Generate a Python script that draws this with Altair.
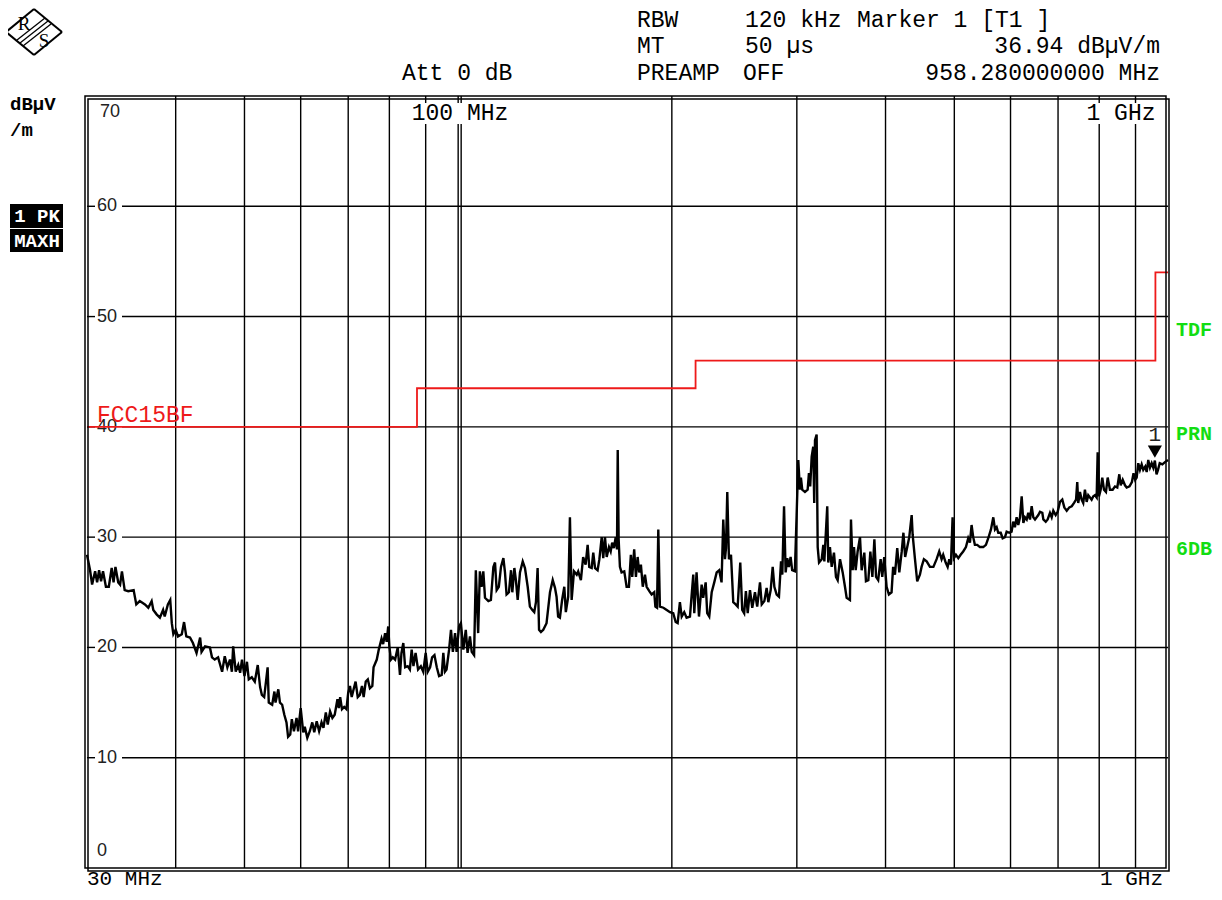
import altair as alt
import pandas as pd

# ---------------- data ----------------
freq_a = [30.0, 30.3, 30.5, 30.8, 31.0, 31.2, 31.4, 31.6, 31.9, 32.2,
          32.5, 32.7, 32.9, 33.2, 33.4, 33.6, 33.9, 34.3, 34.9, 35.2,
          35.6, 36.2, 36.6, 37.0, 37.2, 37.6, 38.0, 38.4, 38.6, 39.0,
          39.3, 39.5, 39.7, 40.0, 40.3, 40.8, 41.1, 41.4, 41.9, 42.3,
          42.8, 43.3, 43.5, 44.0, 44.7, 45.0, 45.4, 45.9, 46.5, 46.9,
          47.3, 47.7, 48.0, 48.2, 48.6, 49.0, 49.3, 49.6, 50.0, 50.4,
          50.7, 51.2, 51.7, 52.2, 52.6]
level_a = [28.4, 27.0, 25.7, 26.9, 25.9, 27.0, 26.0, 26.9, 25.5, 25.5,
           27.2, 25.9, 27.3, 25.9, 25.7, 26.9, 25.2, 25.1, 25.2, 23.9,
           24.2, 23.9, 23.6, 24.2, 23.4, 23.0, 22.7, 23.4, 22.8, 23.9,
           24.3, 22.2, 21.2, 21.6, 21.0, 21.2, 22.3, 21.0, 20.9, 20.4,
           19.5, 20.9, 19.6, 20.1, 20.0, 19.1, 18.9, 19.1, 17.8, 19.2,
           18.2, 18.9, 17.8, 20.1, 17.8, 18.4, 17.7, 18.9, 17.4, 18.7,
           17.1, 17.3, 16.9, 18.4, 16.4]

freq_b = [52.9, 53.3, 53.9, 54.1, 54.7, 55.1, 55.3, 55.8, 56.1, 56.5,
          56.9, 57.3, 57.6, 58.0, 58.3, 58.7, 59.2, 59.5, 60.0, 60.5,
          60.8, 61.3, 61.8, 62.3, 62.7, 63.2, 63.7, 64.2, 64.6, 65.1,
          65.5, 66.0, 66.5, 67.0, 67.6, 67.9, 68.2, 68.6, 69.1, 69.6,
          70.0, 70.4, 70.8, 71.3, 71.7, 72.2, 72.7, 73.2, 73.6, 74.1,
          74.6, 75.1, 75.7, 76.0, 76.8, 77.3, 78.0, 78.4, 78.9, 79.3,
          79.7, 80.0, 80.4, 80.9, 81.5, 82.2, 82.8, 83.2, 83.7, 84.2,
          84.9, 85.5, 86.0, 86.5, 87.1, 87.8, 88.6, 89.3, 90.0, 90.6,
          91.3, 91.9, 92.6, 93.3, 94.0, 94.8, 95.3, 95.8, 96.3, 97.1,
          97.7, 98.3, 99.0, 99.5, 100.3, 100.9]
level_b = [15.7, 15.5, 18.2, 15.0, 14.8, 16.0, 15.0, 16.2, 15.0, 14.8,
           13.9, 13.2, 11.9, 12.1, 13.5, 12.4, 13.6, 12.4, 14.5, 12.3,
           12.8, 11.8, 12.4, 13.2, 12.3, 13.3, 12.4, 13.2, 12.7, 14.1,
           13.0, 14.2, 13.6, 13.9, 15.3, 14.5, 15.5, 14.4, 14.6, 14.4,
           15.9, 16.5, 15.5, 16.3, 16.9, 15.5, 15.7, 16.5, 15.5, 16.9,
           17.1, 16.3, 16.5, 18.2, 18.9, 19.8, 20.8, 20.3, 21.3, 20.5,
           21.9, 20.1, 18.9, 19.1, 18.9, 20.0, 17.5, 19.5, 20.4, 18.2,
           18.3, 18.0, 19.8, 18.3, 19.5, 18.0, 18.3, 17.8, 19.5, 17.8,
           18.2, 19.1, 19.3, 18.2, 17.4, 17.5, 19.5, 17.8, 18.0, 19.8,
           21.6, 19.6, 21.3, 19.6, 21.9, 22.2]

freq_c = [101.7, 102.5, 103.1, 103.9, 104.5, 105.3, 105.9, 106.7, 107.3, 107.9,
          108.5, 109.1, 110.3, 111.2, 112.1, 112.7, 113.3, 114.1, 114.9, 115.8,
          116.4, 117.0, 117.9, 118.7, 119.2, 120.0, 120.6, 121.3, 122.2, 123.3,
          124.2, 125.3, 126.2, 127.2, 128.0, 128.7, 129.4, 130.0, 130.8, 131.8,
          133.2, 134.7, 135.9, 136.9, 137.6, 138.3, 139.1, 140.1, 141.1, 141.8,
          142.9, 143.7, 144.5, 145.6, 146.9, 147.6, 148.9, 150.0, 151.2, 152.2,
          153.0, 154.2, 155.0, 155.9, 157.2, 158.1, 159.3, 160.1, 161.0, 161.9,
          163.1, 164.0, 164.8, 165.7, 166.7, 167.4, 167.8, 168.3, 169.0, 169.9,
          171.4, 172.7, 174.0, 175.1, 175.9, 177.0, 178.0, 179.0, 179.9, 180.9,
          182.0, 183.3, 184.3, 185.9, 187.3, 188.9, 189.6, 190.6, 191.4, 192.4,
          194.6, 196.7, 198.8, 200.9, 202.5, 203.8]
level_c = [19.8, 21.6, 19.5, 21.0, 19.6, 19.3, 27.0, 21.3, 26.9, 25.5,
           26.9, 24.5, 24.2, 24.3, 27.3, 27.7, 25.2, 25.5, 27.3, 28.1,
           26.8, 24.8, 25.0, 27.0, 25.0, 27.2, 26.1, 24.3, 26.8, 27.8,
           27.2, 25.5, 23.7, 23.4, 23.2, 24.1, 27.2, 21.6, 21.4, 21.6,
           22.2, 25.0, 26.1, 25.4, 24.6, 22.8, 22.7, 24.3, 25.5, 23.2,
           24.6, 31.8, 24.3, 26.9, 26.6, 26.9, 26.1, 28.2, 27.5, 29.3,
           27.3, 27.2, 28.6, 27.2, 27.0, 28.0, 30.0, 28.1, 30.0, 28.2,
           29.1, 28.7, 29.5, 29.0, 30.0, 28.9, 37.9, 29.8, 27.3, 26.8,
           26.9, 25.5, 25.5, 28.4, 26.4, 28.9, 26.4, 28.2, 26.8, 27.5,
           25.5, 26.6, 25.5, 25.1, 24.8, 25.0, 23.7, 23.6, 30.7, 23.7,
           23.6, 23.4, 23.2, 23.1, 22.3, 22.2]

freq_d = [205.3, 206.5, 208.2, 209.8, 212.1, 214.4, 215.1, 216.7, 218.4, 220.3,
          221.4, 223.2, 224.3, 225.8, 227.6, 229.5, 231.3, 233.2, 235.0, 236.3,
          237.6, 238.4, 239.4, 240.7, 242.3, 244.1, 246.0, 247.6, 249.7, 251.3,
          252.9, 254.3, 255.8, 257.7, 259.6, 261.9, 263.8, 266.2, 267.7, 270.0,
          272.0, 273.5, 275.6, 277.4, 278.9, 281.0, 283.1, 285.0, 286.2, 287.8,
          289.3, 290.8, 292.3, 294.0, 295.5, 298.1, 299.8, 301.4, 303.0, 304.0,
          305.3, 308.0, 310.7, 312.0, 313.3, 314.8, 316.4, 317.4, 318.2, 319.9,
          321.0, 322.4, 325.2, 326.9, 328.0, 331.1, 332.2, 334.0, 335.9, 338.4,
          340.6, 342.5, 345.1, 348.1, 350.7, 352.6, 356.4, 357.6, 359.6, 361.1,
          363.1, 365.4, 368.2, 370.2, 373.4, 375.4, 378.3, 380.8, 383.3, 385.8,
          387.9, 390.6, 393.7, 395.8, 398.3, 401.4, 404.4, 407.9, 410.0]
level_d = [24.1, 22.8, 23.2, 22.7, 22.8, 26.6, 23.1, 26.8, 22.8, 25.7,
           24.5, 25.9, 23.1, 22.8, 25.0, 25.9, 26.8, 27.0, 25.9, 31.6,
           28.0, 29.0, 34.1, 28.0, 28.4, 24.1, 23.9, 23.7, 27.7, 23.4,
           23.1, 25.1, 23.1, 25.2, 23.6, 25.0, 23.7, 25.9, 23.9, 24.2,
           25.4, 24.1, 25.2, 27.3, 25.5, 24.8, 24.6, 27.8, 26.6, 32.8,
           26.8, 28.1, 27.3, 28.2, 27.0, 26.9, 32.0, 37.0, 34.3, 35.4,
           34.3, 34.1, 34.3, 35.8, 34.6, 37.3, 38.2, 33.1, 38.8, 39.3,
           29.1, 27.7, 28.0, 29.3, 27.8, 32.8, 27.7, 29.1, 27.3, 28.6,
           26.4, 26.1, 28.0, 26.8, 25.5, 24.5, 24.3, 31.6, 27.0, 29.1,
           27.0, 28.7, 30.0, 27.0, 28.6, 26.0, 26.1, 28.7, 26.4, 29.8,
           26.4, 26.1, 28.0, 26.4, 28.2, 25.5, 24.8, 25.0, 27.3]

freq_e = [412.4, 415.5, 418.3, 421.6, 423.9, 426.3, 429.2, 432.0, 435.4, 436.8,
          440.1, 443.3, 447.2, 449.6, 453.0, 457.1, 462.0, 467.2, 472.1, 476.1,
          479.8, 482.3, 486.2, 489.3, 491.9, 494.5, 497.2, 499.4, 502.6, 506.5,
          510.3, 514.6, 519.2, 523.1, 526.0, 528.8, 531.6, 534.5, 538.6, 543.3,
          549.2, 554.0, 558.2, 563.1, 567.4, 570.5, 573.6, 576.6, 581.2, 584.9,
          589.3, 592.5, 597.5, 602.1, 605.2, 608.6, 612.0, 615.3, 618.7, 622.1,
          625.5, 628.8, 632.3, 635.6, 639.1, 642.6, 646.0, 649.6, 653.1, 656.6,
          660.2, 665.2, 667.4, 672.6, 676.8, 681.9, 685.7, 689.3, 694.6, 699.1,
          704.4, 709.7, 714.4, 720.0, 726.1, 731.8, 737.3, 742.1, 745.0, 747.4,
          751.6, 755.7, 759.6, 763.8, 768.1, 772.1, 776.4, 780.6, 784.8, 789.1,
          793.4, 796.0, 799.4, 803.8, 808.0, 812.5, 817.7, 822.3, 828.4, 835.7,
          842.0, 848.3, 853.9, 857.8, 863.4, 869.8, 874.6, 882.6, 889.5, 894.2,
          899.0, 903.4, 908.1, 913.0, 918.1, 922.9, 928.9, 933.2, 938.0, 943.2,
          948.4, 953.4, 958.28, 963.5, 968.1, 973.5, 981.9, 990.3, 1000.0]
level_e = [26.6, 29.0, 26.8, 28.7, 30.4, 28.2, 29.1, 30.0, 32.0, 30.2,
           28.0, 26.0, 26.6, 27.3, 28.0, 27.8, 27.3, 27.3, 28.0, 28.7,
           28.0, 28.4, 27.7, 27.3, 28.0, 27.5, 31.8, 28.1, 28.4, 28.1,
           28.4, 28.7, 29.1, 29.9, 29.5, 31.1, 30.0, 29.3, 29.3, 29.1,
           29.1, 29.3, 29.9, 30.7, 31.8, 30.7, 30.9, 30.4, 30.4, 29.9,
           30.0, 30.5, 30.4, 30.5, 31.4, 30.9, 31.8, 31.1, 31.8, 33.7,
           31.3, 31.8, 31.6, 32.2, 31.6, 32.8, 31.8, 31.6, 31.8, 32.0,
           32.3, 32.2, 31.6, 31.4, 31.6, 32.2, 31.8, 32.4, 32.0, 32.3,
           33.2, 33.4, 32.7, 32.4, 32.7, 32.8, 33.1, 33.4, 35.0, 33.1,
           34.1, 33.4, 33.1, 34.3, 33.2, 33.8, 33.6, 33.4, 33.7, 33.8,
           33.6, 37.7, 33.7, 34.3, 35.4, 34.3, 34.1, 35.4, 34.3, 34.3,
           34.6, 34.5, 35.7, 34.7, 35.2, 34.7, 34.5, 34.6, 35.0, 35.8,
           35.2, 35.4, 36.7, 36.1, 36.6, 36.1, 36.4, 35.9, 37.0, 36.3,
           36.7, 36.3, 36.94, 35.7, 36.1, 36.7, 36.6, 36.8, 37.0]

limit_freq = [30, 87.5, 87.5, 216, 216, 960, 960, 1000]
limit_level = [40, 40, 43.5, 43.5, 46, 46, 54, 54]

marker_freq = [958.28]
marker_level = [36.94]

grid_freqs = [40, 50, 60, 70, 80, 90, 100, 200, 300, 400, 500, 600, 700, 800, 900]
grid_levels = [10, 20, 30, 40, 50, 60]

# ---------------- chart ----------------
W, H = 1081, 772
MONO = "Liberation Mono"
SANS = "Liberation Sans"
RED = "#ee1a1a"
GREEN = "#12dd12"
FS = 23

trace = pd.DataFrame({"freq": freq_a + freq_b + freq_c + freq_d + freq_e,
                      "level": level_a + level_b + level_c + level_d + level_e})
limit = pd.DataFrame({"freq": limit_freq, "level": limit_level,
                      "i": list(range(len(limit_freq)))})
marker = pd.DataFrame({"freq": marker_freq, "level": marker_level})
one = pd.DataFrame({"k": [0]})

xscale = alt.Scale(type="log", domain=[30, 1000], nice=False)
yscale = alt.Scale(domain=[0, 70], nice=False, zero=False)


def X():
    return alt.X("freq:Q", scale=xscale, axis=None)


def Y():
    return alt.Y("level:Q", scale=yscale, axis=None)


def T(s, x, y, size=FS, color="black", align="left", weight="normal", font=MONO,
      baseline="middle"):
    return alt.Chart(one).mark_text(
        text=s, align=align, baseline=baseline, font=font, fontSize=size,
        fontWeight=weight, color=color
    ).encode(x=alt.value(x), y=alt.value(y))


def BOX(x, x2, y, y2, fill="white"):
    return alt.Chart(one).mark_rect(fill=fill, strokeWidth=0).encode(
        x=alt.value(x), x2=alt.value(x2), y=alt.value(y), y2=alt.value(y2))


def FRAME(x, x2, y, y2):
    return alt.Chart(one).mark_rect(fillOpacity=0, stroke="black", strokeWidth=1.5).encode(
        x=alt.value(x), x2=alt.value(x2), y=alt.value(y), y2=alt.value(y2))


def SEG(x, y, x2, y2, sw=1.3, color="black"):
    return alt.Chart(one).mark_rule(color=color, strokeWidth=sw).encode(
        x=alt.value(x), y=alt.value(y), x2=alt.value(x2), y2=alt.value(y2))


layers = []

# grid
gf = pd.DataFrame({"freq": grid_freqs})
layers.append(alt.Chart(gf).mark_rule(color="black", strokeWidth=1.4).encode(
    x=X(), y=alt.value(0), y2=alt.value(H)))
layers.append(alt.Chart(pd.DataFrame({"freq": [100]})).mark_rule(
    color="black", strokeWidth=1.4, xOffset=3).encode(x=X(), y=alt.value(0), y2=alt.value(H)))
gl = pd.DataFrame({"level": grid_levels})
layers.append(alt.Chart(gl).mark_rule(color="black", strokeWidth=1.4).encode(
    y=Y(), x=alt.value(0), x2=alt.value(8)))
layers.append(alt.Chart(gl).mark_rule(color="black", strokeWidth=1.4).encode(
    y=Y(), x=alt.value(35), x2=alt.value(W)))
layers.append(alt.Chart(gl).mark_text(
    align="left", baseline="middle", font=SANS, fontSize=18, color="#222222"
).encode(y=Y(), x=alt.value(10), text=alt.Text("level:Q", format="d")))
layers.append(T("70", 13, 16, size=18, font=SANS, color="#222222"))
layers.append(T("0", 10, 755, size=18, font=SANS, color="#222222"))

# top frequency labels (with gaps in the grid)
layers.append(BOX(318, 428, 7, 28))
layers.append(T("100 MHz", 373, 17, align="center"))
layers.append(BOX(996, 1073, 7, 28))
layers.append(T("1 GHz", 1034, 17, align="center"))

# limit line + label
layers.append(alt.Chart(limit).mark_line(color=RED, strokeWidth=1.8, interpolate="linear").encode(
    x=X(), y=Y(), order="i:Q"))
layers.append(T("FCC15BF", 10, 319, color=RED))

# trace
layers.append(alt.Chart(trace).mark_line(color="black", strokeWidth=2.4).encode(x=X(), y=Y()))

# marker
layers.append(alt.Chart(marker).mark_point(
    shape="triangle-down", filled=True, size=200, color="black", opacity=1, yOffset=-9
).encode(x=X(), y=Y()))
layers.append(alt.Chart(marker).mark_text(
    text="1", fontSize=21, font=MONO, color="#222222", yOffset=-26, baseline="middle"
).encode(x=X(), y=Y()))

# frame (double)
layers.append(FRAME(-2, 1079, 0, 772))
layers.append(FRAME(1, 1082, 3, 775))

# header
layers.append(T("Att 0 dB", 315, -23))
layers.append(T("RBW", 550, -76))
layers.append(T("120 kHz", 658, -76))
layers.append(T("Marker 1 [T1 ]", 770, -76))
layers.append(T("MT", 550, -50))
layers.append(T("50 \u00b5s", 658, -50))
layers.append(T("36.94 dB\u00b5V/m", 1073, -50, align="right"))
layers.append(T("PREAMP", 550, -23))
layers.append(T("OFF", 656, -23))
layers.append(T("958.280000000 MHz", 1073, -23, align="right"))

# bottom axis labels
layers.append(T("30 MHz", 0, 789, size=21, baseline="alphabetic"))
layers.append(T("1 GHz", 1076, 789, size=21, align="right", baseline="alphabetic"))

# left labels
layers.append(T("dB\u00b5V", -77, 8, size=19, weight="bold"))
layers.append(T("/m", -77, 34, size=19, weight="bold"))
layers.append(BOX(-77, -24, 108, 132, fill="black"))
layers.append(T("1 PK", -50, 120, size=19, weight="bold", color="white", align="center"))
layers.append(BOX(-77, -24, 133, 156, fill="black"))
layers.append(T("MAXH", -50, 145, size=19, weight="bold", color="white", align="center"))

# right labels
layers.append(T("TDF", 1089, 234, size=20, weight="bold", color=GREEN))
layers.append(T("PRN", 1089, 338, size=20, weight="bold", color=GREEN))
layers.append(T("6DB", 1089, 453, size=20, weight="bold", color=GREEN))

# R&S logo
cx, cy, hw, hh = -53, -64, 28, 23
layers.append(SEG(cx, cy - hh, cx + hw, cy, sw=2))
layers.append(SEG(cx + hw, cy, cx, cy + hh, sw=2))
layers.append(SEG(cx, cy + hh, cx - hw, cy, sw=2))
layers.append(SEG(cx - hw, cy, cx, cy - hh, sw=2))
for o in (-3, 0, 3):
    layers.append(SEG(cx + 14 + o, cy - 11 + o, cx - 14 + o, cy + 11 + o, sw=1.3))
layers.append(T("R", cx - 10, cy - 8, size=19, font="Liberation Serif", align="center"))
layers.append(T("S", cx + 10, cy + 9, size=19, font="Liberation Serif", align="center"))

chart = alt.layer(*layers).properties(
    width=W, height=H,
    padding={"left": 79, "top": 88, "right": 46, "bottom": 24},
    autosize=alt.AutoSizeParams(type="none"),
    background="white",
).configure_view(strokeWidth=0)

chart.save("out.html", embed_options={"renderer": "svg", "actions": False})
